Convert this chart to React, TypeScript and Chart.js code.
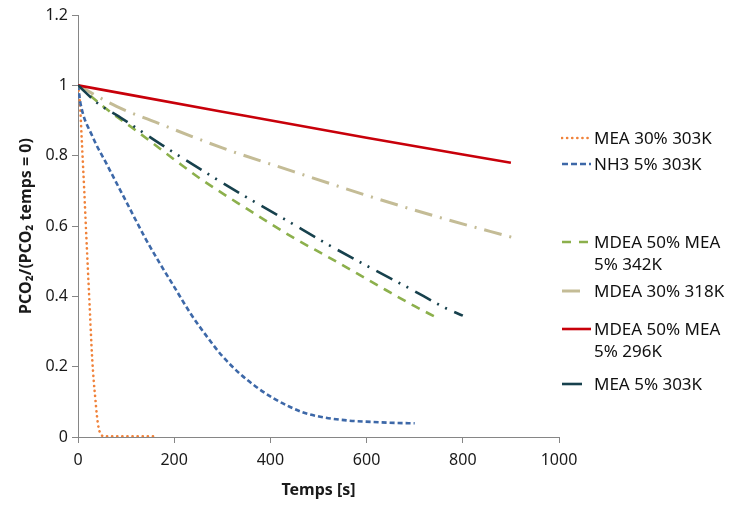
import React, { useEffect, useRef } from "react";
import { Chart, registerables } from "chart.js";

Chart.register(...registerables);

// ---- Data ----
const seriesNames = [
  "MEA 30% 303K",
  "NH3 5% 303K",
  "MDEA 50% MEA 5% 342K",
  "MDEA 30% 318K",
  "MDEA 50% MEA 5% 296K",
  "MEA 5% 303K",
];

const mea30Time = [0, 4, 8, 13, 17, 21, 25, 29, 33, 36, 39, 42, 45, 49, 55, 70, 100, 130, 165];
const mea30Val = [1, 0.95, 0.84, 0.7, 0.58, 0.465, 0.35, 0.235, 0.155, 0.11, 0.065, 0.033, 0.015, 0.005, 0.002, 0.002, 0.002, 0.002, 0.002];

const nh3Time = [0, 5, 30, 60, 100, 140, 170, 200, 235, 270, 300, 335, 370, 405, 440, 470, 510, 560, 610, 660, 700];
const nh3Val = [1, 0.95, 0.855, 0.775, 0.67, 0.565, 0.494, 0.427, 0.349, 0.282, 0.23, 0.182, 0.143, 0.111, 0.086, 0.069, 0.056, 0.047, 0.043, 0.04, 0.039];

const mdea50_342Time = [0, 60, 120, 205, 258, 350, 450, 520, 580, 640, 700, 745];
const mdea50_342Val = [1, 0.932, 0.872, 0.784, 0.731, 0.65, 0.565, 0.512, 0.465, 0.418, 0.372, 0.34];

const mdea30Time = [0, 80, 160, 300, 450, 600, 750, 910];
const mdea30Val = [1, 0.94, 0.896, 0.822, 0.754, 0.687, 0.625, 0.565];

const mdea50_296Time = [0, 300, 600, 900];
const mdea50_296Val = [1, 0.925, 0.851, 0.78];

const mea5Time = [0, 40, 90, 175, 260, 345, 430, 515, 600, 690, 765, 800];
const mea5Val = [1, 0.95, 0.907, 0.83, 0.757, 0.686, 0.619, 0.551, 0.487, 0.422, 0.366, 0.345];

const xTicks = [0, 200, 400, 600, 800, 1000];
const yTicks = [0, 0.2, 0.4, 0.6, 0.8, 1, 1.2];
const xTickLabels = ["0", "200", "400", "600", "800", "1000"];
const yTickLabels = ["0", "0.2", "0.4", "0.6", "0.8", "1", "1.2"];

const xTitle = "Temps [s]";
const yTitle = "PCO\u2082/(PCO\u2082 temps = 0)";

// ---- Styles ----
const FONT = "'Noto Sans', 'Open Sans', sans-serif";
const styles = [
  { color: "#F0823A", width: 2.6, dash: [0.1, 5], cap: "round", legendDash: "0.1 5" },
  { color: "#3D68A8", width: 2.6, dash: [5, 3], cap: "butt", legendDash: "6 3" },
  { color: "#8CB04C", width: 2.6, dash: [9, 7], cap: "butt", legendDash: "9 8" },
  { color: "#C4BC96", width: 3, dash: [18, 8, 2, 8], cap: "butt", legendDash: "18 100" },
  { color: "#C8000A", width: 2.6, dash: [], cap: "butt", legendDash: "" },
  { color: "#17414D", width: 2.6, dash: [18, 7, 2, 7, 2, 8], cap: "butt", legendDash: "20 100" },
];

const legendLayout = [
  { top: 127, lines: ["MEA 30% 303K"] },
  { top: 153, lines: ["NH3 5% 303K"] },
  { top: 231, lines: ["MDEA 50% MEA", "5% 342K"] },
  { top: 280, lines: ["MDEA 30% 318K"] },
  { top: 318, lines: ["MDEA 50% MEA", "5% 296K"] },
  { top: 373, lines: ["MEA 5% 303K"] },
];

const seriesTimes = [mea30Time, nh3Time, mdea50_342Time, mdea30Time, mdea50_296Time, mea5Time];
const seriesVals = [mea30Val, nh3Val, mdea50_342Val, mdea30Val, mdea50_296Val, mea5Val];

export default function App() {
  const ref = useRef<HTMLCanvasElement | null>(null);

  useEffect(() => {
    if (!ref.current) return;
    const datasets = seriesNames.map((name, i) => ({
      label: name,
      data: seriesTimes[i].map((t, k) => ({ x: t, y: seriesVals[i][k] })),
      borderColor: styles[i].color,
      backgroundColor: styles[i].color,
      borderWidth: styles[i].width,
      borderDash: styles[i].dash,
      borderCapStyle: styles[i].cap as CanvasLineCap,
      pointRadius: 0,
      fill: false,
      cubicInterpolationMode: "monotone" as const,
      order: seriesNames.length - i,
    }));

    const axisColor = "#868686";
    const chart = new Chart(ref.current, {
      type: "line",
      data: { datasets },
      options: {
        animation: false,
        responsive: false,
        layout: { padding: { top: 15, right: 171, bottom: 0, left: 0 } },
        plugins: { legend: { display: false }, tooltip: { enabled: false } },
        scales: {
          x: {
            type: "linear",
            min: xTicks[0],
            max: xTicks[xTicks.length - 1],
            afterBuildTicks: (s: any) => {
              s.ticks = xTicks.map((v) => ({ value: v }));
            },
            afterFit: (s: any) => {
              s.height = 70;
            },
            grid: { drawOnChartArea: false, drawTicks: true, tickLength: 6, color: axisColor },
            border: { color: axisColor, width: 1 },
            ticks: {
              color: "#1a1a1a",
              padding: 8,
              font: { family: FONT, size: 16 },
              maxRotation: 0,
              callback: (v: any) => {
                const idx = xTicks.indexOf(Number(v));
                return idx >= 0 ? xTickLabels[idx] : "";
              },
            },
            title: {
              display: true,
              text: xTitle,
              color: "#1a1a1a",
              font: { family: FONT, size: 16, weight: "bold" },
              padding: { top: 0, bottom: 7 },
            },
          },
          y: {
            type: "linear",
            min: yTicks[0],
            max: yTicks[yTicks.length - 1],
            afterBuildTicks: (s: any) => {
              s.ticks = yTicks.map((v) => ({ value: v }));
            },
            afterFit: (s: any) => {
              s.width = 78;
            },
            grid: { drawOnChartArea: false, drawTicks: true, tickLength: 6, color: axisColor },
            border: { color: axisColor, width: 1 },
            ticks: {
              color: "#1a1a1a",
              padding: 4,
              font: { family: FONT, size: 16 },
              callback: (v: any) => {
                const idx = yTicks.findIndex((t) => Math.abs(t - Number(v)) < 1e-9);
                return idx >= 0 ? yTickLabels[idx] : "";
              },
            },
            title: {
              display: true,
              text: yTitle,
              color: "#1a1a1a",
              font: { family: FONT, size: 16, weight: "bold" },
              padding: { top: 17, bottom: 0 },
            },
          },
        },
      },
    });
    return () => chart.destroy();
  }, []);

  return (
    <div style={{ position: "fixed", left: 0, top: 0, width: 730, height: 507, background: "#fff" }}>
      <canvas ref={ref} width={730} height={507} style={{ position: "absolute", left: 0, top: 0 }} />
      {legendLayout.map((item, i) => (
        <div
          key={i}
          style={{
            position: "absolute",
            left: 561,
            top: item.top,
            fontFamily: FONT,
            fontSize: 17,
            lineHeight: "22px",
            color: "#111",
            whiteSpace: "nowrap",
          }}
        >
          <svg width={31} height={20} style={{ position: "absolute", left: 0, top: 1 }}>
            <line
              x1={1}
              y1={10}
              x2={30}
              y2={10}
              stroke={styles[i].color}
              strokeWidth={styles[i].width}
              strokeDasharray={styles[i].legendDash || undefined}
              strokeLinecap={styles[i].cap as any}
            />
          </svg>
          <div style={{ marginLeft: 33 }}>
            {item.lines.map((l, k) => (
              <div key={k}>{l}</div>
            ))}
          </div>
        </div>
      ))}
    </div>
  );
}
